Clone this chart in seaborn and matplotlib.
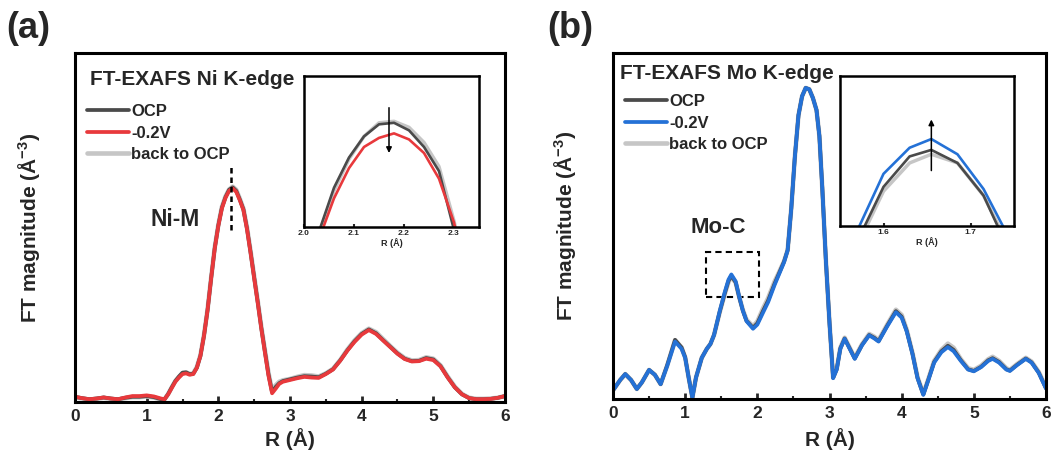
import matplotlib
matplotlib.use("Agg")
import matplotlib.pyplot as plt
from matplotlib.ticker import MultipleLocator
from matplotlib.patches import Rectangle
import seaborn as sns

# ---- data (FT-EXAFS magnitude, arbitrary units) ----
# (a) Ni K-edge
R_ni = [0.0, 0.1, 0.2, 0.3, 0.4, 0.5, 0.6, 0.7, 0.8, 0.9, 1.0, 1.1, 1.2,
        1.25, 1.3, 1.35, 1.4, 1.45, 1.5, 1.55, 1.6, 1.65, 1.7,
        1.75, 1.8, 1.85, 1.9, 1.95, 2.0, 2.05, 2.1, 2.15, 2.2,
        2.25, 2.3, 2.35, 2.4, 2.45, 2.5, 2.55, 2.6, 2.65, 2.7,
        2.75, 2.8, 2.85, 2.9,
        3.0, 3.1, 3.2, 3.3, 3.4, 3.5, 3.6, 3.7, 3.8, 3.9, 4.0,
        4.1, 4.2, 4.3, 4.4, 4.5, 4.6, 4.7, 4.8, 4.9, 5.0,
        5.1, 5.2, 5.3, 5.4, 5.5, 5.6, 5.7, 5.8, 5.9, 6.0]
ni_neg = [0.15, 0.11, 0.08, 0.10, 0.13, 0.10, 0.08, 0.13, 0.17, 0.17, 0.19, 0.16, 0.10,
          0.08, 0.22, 0.40, 0.58, 0.70, 0.80, 0.82, 0.78, 0.80, 0.98,
          1.32, 1.90, 2.64, 3.55, 4.40, 5.05, 5.55, 5.85, 6.05, 6.12,
          6.02, 5.78, 5.50, 4.95, 4.27, 3.55, 2.84, 2.10, 1.42, 0.75,
          0.25, 0.38, 0.52, 0.58,
          0.63, 0.68, 0.72, 0.70, 0.69, 0.80, 0.93, 1.18, 1.47, 1.72, 1.93,
          2.06, 1.95, 1.76, 1.57, 1.38, 1.23, 1.16, 1.17, 1.24, 1.20,
          1.02, 0.70, 0.42, 0.22, 0.11, 0.08, 0.08, 0.09, 0.12, 0.17]
ni_ocp = [0.15, 0.11, 0.08, 0.10, 0.13, 0.10, 0.08, 0.12, 0.15, 0.15, 0.17, 0.14, 0.08,
          0.08, 0.23, 0.42, 0.60, 0.73, 0.84, 0.85, 0.80, 0.81, 0.98,
          1.32, 1.90, 2.64, 3.55, 4.41, 5.06, 5.57, 5.87, 6.08, 6.15,
          6.05, 5.80, 5.52, 4.97, 4.29, 3.57, 2.86, 2.12, 1.45, 0.79,
          0.29, 0.43, 0.54, 0.60,
          0.65, 0.70, 0.74, 0.73, 0.71, 0.81, 0.94, 1.19, 1.48, 1.74, 1.95,
          2.08, 1.97, 1.77, 1.58, 1.39, 1.24, 1.17, 1.18, 1.26, 1.22,
          1.03, 0.71, 0.42, 0.22, 0.11, 0.08, 0.08, 0.09, 0.12, 0.17]
ni_back = [0.13, 0.10, 0.07, 0.09, 0.12, 0.09, 0.07, 0.11, 0.14, 0.14, 0.16, 0.13, 0.07,
           0.08, 0.23, 0.42, 0.60, 0.72, 0.83, 0.85, 0.80, 0.82, 1.00,
           1.34, 1.92, 2.66, 3.57, 4.43, 5.08, 5.59, 5.89, 6.09, 6.17,
           6.08, 5.82, 5.54, 5.00, 4.32, 3.60, 2.89, 2.15, 1.48, 0.83,
           0.32, 0.48, 0.58, 0.62,
           0.66, 0.72, 0.77, 0.76, 0.73, 0.82, 0.95, 1.20, 1.50, 1.76, 1.97,
           2.10, 2.00, 1.80, 1.60, 1.41, 1.26, 1.19, 1.20, 1.28, 1.24,
           1.05, 0.73, 0.44, 0.23, 0.12, 0.09, 0.09, 0.10, 0.12, 0.17]

# inset (a): zoom on the Ni-M peak
R_ni_zoom = [2.03, 2.06, 2.09, 2.12, 2.15, 2.18, 2.21, 2.24, 2.27, 2.30, 2.33]
ni_zoom_neg = [5.37, 5.64, 5.84, 5.98, 6.04, 6.07, 6.03, 5.94, 5.77, 5.48, 5.05]
ni_zoom_ocp = [5.42, 5.71, 5.91, 6.05, 6.13, 6.14, 6.09, 5.98, 5.82, 5.43, 5.00]
ni_zoom_back = [5.40, 5.69, 5.90, 6.05, 6.14, 6.15, 6.11, 6.01, 5.85, 5.49, 5.05]

# (b) Mo K-edge
R_mo = [0.0, 0.1, 0.17, 0.25, 0.33, 0.4, 0.5, 0.58, 0.66, 0.75,
        0.86, 0.95, 1.0, 1.05, 1.1, 1.15, 1.23, 1.3, 1.35, 1.4,
        1.48, 1.55, 1.6, 1.64, 1.7, 1.75, 1.8, 1.85, 1.94, 2.0,
        2.08, 2.15, 2.24, 2.3, 2.37, 2.42, 2.47, 2.52, 2.57, 2.62,
        2.67, 2.72, 2.77, 2.82, 2.86, 2.9, 2.95, 3.0, 3.05, 3.1,
        3.15, 3.21, 3.28, 3.35, 3.45, 3.55, 3.62, 3.68, 3.8, 3.92,
        4.0, 4.07, 4.15, 4.22, 4.3, 4.37, 4.45, 4.55, 4.64, 4.72,
        4.82, 4.92, 5.0, 5.1, 5.2, 5.26, 5.35, 5.45, 5.5, 5.6,
        5.72, 5.8, 5.9, 6.0]
mo_neg = [0.25, 0.55, 0.72, 0.55, 0.29, 0.48, 0.84, 0.70, 0.43, 0.95,
          1.66, 1.45, 1.19, 0.60, 0.04, 0.62, 1.19, 1.45, 1.59, 1.85,
          2.55, 3.10, 3.45, 3.60, 3.40, 2.95, 2.55, 2.25, 2.03, 2.15,
          2.50, 2.80, 3.30, 3.60, 3.95, 4.30, 5.50, 7.00, 8.20, 8.75,
          8.99, 8.95, 8.70, 8.35, 7.60, 6.10, 4.00, 2.20, 0.60, 0.85,
          1.45, 1.74, 1.45, 1.16, 1.55, 1.84, 1.75, 1.66, 2.10, 2.51,
          2.35, 1.95, 1.30, 0.60, 0.12, 0.55, 1.05, 1.35, 1.50, 1.38,
          1.10, 0.85, 0.80, 0.92, 1.10, 1.16, 1.05, 0.85, 0.81, 0.98,
          1.16, 1.05, 0.75, 0.30]
mo_ocp = [0.25, 0.55, 0.72, 0.55, 0.29, 0.48, 0.84, 0.70, 0.43, 0.97,
          1.71, 1.49, 1.21, 0.60, 0.04, 0.62, 1.19, 1.45, 1.59, 1.85,
          2.53, 3.06, 3.41, 3.56, 3.37, 2.93, 2.55, 2.26, 2.06, 2.19,
          2.55, 2.85, 3.34, 3.63, 3.97, 4.30, 5.50, 7.00, 8.20, 8.75,
          8.99, 8.95, 8.70, 8.35, 7.60, 6.10, 4.00, 2.20, 0.61, 0.86,
          1.46, 1.75, 1.46, 1.17, 1.56, 1.85, 1.77, 1.67, 2.12, 2.54,
          2.38, 1.97, 1.31, 0.61, 0.13, 0.56, 1.07, 1.38, 1.54, 1.42,
          1.12, 0.86, 0.81, 0.93, 1.12, 1.18, 1.07, 0.86, 0.82, 0.99,
          1.17, 1.06, 0.76, 0.31]
mo_back = [0.25, 0.55, 0.72, 0.55, 0.29, 0.48, 0.84, 0.70, 0.43, 0.96,
           1.70, 1.49, 1.20, 0.60, 0.04, 0.62, 1.19, 1.45, 1.59, 1.85,
           2.52, 3.05, 3.38, 3.54, 3.36, 2.94, 2.57, 2.29, 2.10, 2.24,
           2.62, 2.92, 3.40, 3.66, 3.98, 4.30, 5.50, 7.00, 8.20, 8.75,
           8.99, 8.95, 8.70, 8.35, 7.60, 6.10, 4.00, 2.20, 0.63, 0.88,
           1.48, 1.77, 1.48, 1.19, 1.58, 1.88, 1.80, 1.70, 2.15, 2.58,
           2.43, 2.00, 1.33, 0.63, 0.15, 0.58, 1.10, 1.42, 1.60, 1.48,
           1.15, 0.89, 0.84, 0.96, 1.15, 1.22, 1.10, 0.89, 0.84, 1.01,
           1.19, 1.08, 0.78, 0.33]

# inset (b): zoom on the Mo-C peak
R_mo_zoom = [1.54, 1.57, 1.60, 1.63, 1.655, 1.685, 1.715, 1.745, 1.77]
mo_zoom_neg = [2.95, 3.18, 3.44, 3.56, 3.60, 3.53, 3.37, 3.14, 2.90]
mo_zoom_ocp = [2.90, 3.13, 3.38, 3.52, 3.55, 3.49, 3.34, 3.08, 2.85]
mo_zoom_back = [2.90, 3.11, 3.36, 3.49, 3.53, 3.49, 3.34, 3.10, 2.85]

labels = ["OCP", "-0.2V", "back to OCP"]
c_ocp, c_back = "#4a4a4a", "#c6c6c6"
c_ni, c_mo = "#e8393c", "#2471d6"

# ---- style ----
sns.set_style("ticks")
plt.rcParams["font.family"] = ["Liberation Sans", "DejaVu Sans"]
plt.rcParams["font.weight"] = "bold"
plt.rcParams["axes.labelweight"] = "bold"
plt.rcParams["mathtext.default"] = "regular"

fig = plt.figure(figsize=(10.52, 4.55), dpi=100)
W, H = 1052, 455
ax_a = fig.add_axes([75 / W, 1 - 402 / H, 430 / W, 349 / H])
ax_b = fig.add_axes([613 / W, 1 - 399 / H, 433 / W, 346 / H])
ins_a = fig.add_axes([304 / W, 1 - 227 / H, 175 / W, 151 / H])
ins_b = fig.add_axes([840 / W, 1 - 226 / H, 174 / W, 150 / H])


def draw(ax, R, ocp, neg, back, color, lw=2.7):
    sns.lineplot(x=R, y=back, color=c_back, lw=lw + 0.6, ax=ax, estimator=None,
                 label=labels[2])
    sns.lineplot(x=R, y=ocp, color=c_ocp, lw=lw, ax=ax, estimator=None,
                 label=labels[0])
    sns.lineplot(x=R, y=neg, color=color, lw=lw, ax=ax, estimator=None,
                 label=labels[1])


def main_axes(ax, title, tx, ty, lx, ly, ylab_x, xlab_y):
    ax.set_xlim(0, 6)
    ax.set_ylim(0, 10)
    ax.set_yticks([])
    ax.xaxis.set_major_locator(MultipleLocator(1))
    ax.xaxis.set_minor_locator(MultipleLocator(0.5))
    ax.tick_params(axis="x", which="major", direction="in", length=4, width=2,
                   labelsize=12.5, pad=5)
    ax.tick_params(axis="x", which="minor", direction="in", length=2.5, width=1.5)
    for s in ax.spines.values():
        s.set_linewidth(2.2)
        s.set_color("black")
    ax.set_xlabel("R (Å)", fontsize=15)
    ax.set_ylabel("FT magnitude (Å$^{-3}$)", fontsize=15)
    ax.yaxis.set_label_coords(ylab_x, 0.5)
    ax.xaxis.set_label_coords(0.5, xlab_y)
    ax.text(tx, ty, title, transform=ax.transAxes, fontsize=15,
            ha="left", va="center")
    h, l = ax.get_legend_handles_labels()
    order = [l.index(x) for x in labels]
    ax.legend([h[i] for i in order], [l[i] for i in order], loc="upper left",
              bbox_to_anchor=(lx, ly), frameon=False, fontsize=12,
              handlelength=2.5, handletextpad=0.15, labelspacing=0.38,
              borderpad=0, borderaxespad=0)


def inset_axes(ax, xlim, ylim):
    ax.set_xlim(*xlim)
    ax.set_ylim(*ylim)
    ax.set_yticks([])
    ax.xaxis.set_major_locator(MultipleLocator(0.1))
    ax.tick_params(axis="x", direction="in", length=2, width=1.5,
                   labelsize=6, pad=2)
    for s in ax.spines.values():
        s.set_linewidth(1.8)
        s.set_color("black")
    ax.set_xlabel("R (Å)", fontsize=6.5, labelpad=1)
    ax.set_ylabel("")
    if ax.get_legend() is not None:
        ax.get_legend().remove()


# (a)
draw(ax_a, R_ni, ni_ocp, ni_neg, ni_back, c_ni)
ax_a.plot([2.17, 2.17], [4.93, 6.79], color="black", lw=1.8, ls=(0, (2.2, 1.6)))
ax_a.text(1.40, 5.22, "Ni-M", fontsize=16.5, ha="center", va="center")
main_axes(ax_a, "FT-EXAFS Ni K-edge", 0.035, 0.923, 0.028, 0.853,
          -33 / 430, -0.075)

draw(ins_a, R_ni_zoom, ni_zoom_ocp, ni_zoom_neg, ni_zoom_back, c_ni, lw=1.9)
inset_axes(ins_a, (2.0, 2.35), (5.45, 6.45))
ins_a.annotate("", xy=(2.17, 5.94), xytext=(2.17, 6.24),
               arrowprops=dict(arrowstyle="-|>", color="black", lw=1.1,
                               mutation_scale=8, shrinkA=0, shrinkB=0))

# (b)
draw(ax_b, R_mo, mo_ocp, mo_neg, mo_back, c_mo)
ax_b.add_patch(Rectangle((1.29, 2.96), 0.73, 1.28, fill=False, ec="black",
                         lw=1.5, ls=(0, (3, 2))))
ax_b.text(1.46, 4.96, "Mo-C", fontsize=16, ha="center", va="center")
main_axes(ax_b, "FT-EXAFS Mo K-edge", 0.016, 0.942, 0.028, 0.881,
          -35 / 433, -0.085)

draw(ins_b, R_mo_zoom, mo_zoom_ocp, mo_zoom_neg, mo_zoom_back, c_mo, lw=1.9)
inset_axes(ins_b, (1.55, 1.75), (3.2, 3.89))
ins_b.annotate("", xy=(1.655, 3.69), xytext=(1.655, 3.455),
               arrowprops=dict(arrowstyle="-|>", color="black", lw=1.1,
                               mutation_scale=8, shrinkA=0, shrinkB=0))

fig.text(6 / W, 1 - 29 / H, "(a)", fontsize=26, ha="left", va="center")
fig.text(547 / W, 1 - 29 / H, "(b)", fontsize=26, ha="left", va="center")

fig.savefig("out.png", dpi=100)
